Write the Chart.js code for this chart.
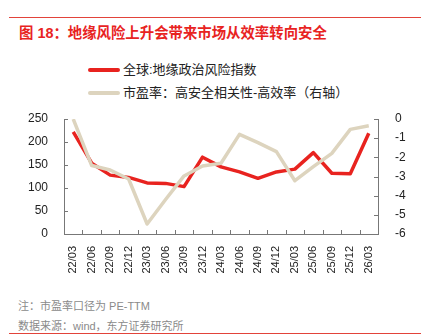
<!DOCTYPE html>
<html>
<head>
<meta charset="utf-8">
<script src="https://cdn.jsdelivr.net/npm/chart.js@4/dist/chart.umd.min.js"></script>
<style>
  body { margin: 0; background: #fff; font-family: "Liberation Sans", "Noto Sans CJK SC", sans-serif; }
  #wrap { position: relative; width: 422px; height: 334px; overflow: hidden; }
  .rule { position: absolute; left: 9px; width: 412px; height: 1px; background: #e2433a; }
  #title { position: absolute; left: 19px; top: 21px; font-size: 14.4px; font-weight: bold; color: #e8231f; white-space: nowrap; }
  .leg { position: absolute; left: 88px; font-size: 13px; color: #222; white-space: nowrap; }
  .leg i { display: inline-block; width: 32px; height: 4px; border-radius: 2px; vertical-align: middle; margin-right: 3px; position: relative; top: -1px; }
  .note { position: absolute; left: 18px; font-size: 11px; color: #8a8a8a; white-space: nowrap; }
  #box { position: absolute; left: 0; top: 100px; width: 422px; height: 185px; }
</style>
</head>
<body>
<div id="wrap">
  <div class="rule" style="top:17px"></div>
  <div id="title">图 18：地缘风险上升会带来市场从效率转向安全</div>
  <div class="leg" id="leg1" style="top:59px"></div>
  <div class="leg" id="leg2" style="top:82px"></div>
  <div id="box"><canvas id="c"></canvas></div>
  <div class="note" style="top:297px">注：市盈率口径为 PE-TTM</div>
  <div class="note" style="top:317px">数据来源：wind，东方证券研究所</div>
  <div class="rule" style="top:333px"></div>
</div>
<script>
const quarters = ['22/03','22/06','22/09','22/12','23/03','23/06','23/09','23/12','24/03','24/06','24/09','24/12','25/03','25/06','25/09','25/12','26/03'];
const riskIndex = [222, 154, 128, 123, 111, 110, 103, 167, 146, 135, 121, 135, 141, 177, 132, 131, 219];
const peSpread = [0.0, -2.43, -2.66, -3.13, -5.48, -4.2, -2.97, -2.45, -2.31, -0.8, -1.23, -1.7, -3.22, -2.49, -1.79, -0.54, -0.35];
const leftTicks = [0, 50, 100, 150, 200, 250];
const rightTicks = [-6, -5, -4, -3, -2, -1, 0];

const riskName = '全球:地缘政治风险指数';
const peName = '市盈率：高安全相关性-高效率（右轴）';
const red = '#e8231f';
const beige = '#ddd4be';

document.getElementById('leg1').innerHTML = '<i style="background:' + red + '"></i>' + riskName;
document.getElementById('leg2').innerHTML = '<i style="background:' + beige + '"></i>' + peName;

const axisColor = '#777';
const font = { family: '"Liberation Sans", Arial, sans-serif', size: 12 };

// short tick marks drawn on the inside of each axis
const innerTicks = {
  id: 'innerTicks',
  afterDraw(chart) {
    const ctx = chart.ctx;
    const a = chart.chartArea;
    const len = 4;
    ctx.save();
    ctx.strokeStyle = axisColor;
    ctx.lineWidth = 1;
    ctx.beginPath();
    chart.scales.y.ticks.forEach((t, i) => {
      const y = Math.round(chart.scales.y.getPixelForTick(i)) + 0.5;
      ctx.moveTo(a.left, y); ctx.lineTo(a.left + len, y);
    });
    chart.scales.y1.ticks.forEach((t, i) => {
      const y = Math.round(chart.scales.y1.getPixelForTick(i)) + 0.5;
      ctx.moveTo(a.right, y); ctx.lineTo(a.right - len, y);
    });
    const xs = chart.scales.x;
    for (let i = 0; i < quarters.length - 1; i++) {
      const x = Math.round((xs.getPixelForTick(i) + xs.getPixelForTick(i + 1)) / 2) + 0.5;
      ctx.moveTo(x, a.bottom); ctx.lineTo(x, a.bottom - len);
    }
    ctx.stroke();
    ctx.restore();
  }
};

new Chart(document.getElementById('c'), {
  type: 'line',
  data: {
    labels: quarters,
    datasets: [
      { label: riskName, data: riskIndex, yAxisID: 'y', borderColor: red, borderWidth: 3.5, borderJoinStyle: 'round', pointRadius: 0, tension: 0, order: 2 },
      { label: peName, data: peSpread, yAxisID: 'y1', borderColor: beige, borderWidth: 3.5, borderJoinStyle: 'round', pointRadius: 0, tension: 0, order: 1 }
    ]
  },
  options: {
    responsive: true,
    maintainAspectRatio: false,
    animation: false,
    layout: { padding: { top: 19, left: 0, right: 0, bottom: 0 } },
    plugins: { legend: { display: false }, tooltip: { enabled: false } },
    scales: {
      x: {
        offset: true,
        grid: { display: false, offset: true },
        border: { color: axisColor },
        ticks: { color: '#222', font: { family: font.family, size: 11 }, minRotation: 90, maxRotation: 90, autoSkip: false, padding: 4 },
        afterFit(s) { s.height = 51; }
      },
      y: {
        position: 'left',
        min: 0, max: 250,
        afterBuildTicks(s) { s.ticks = leftTicks.map(v => ({ value: v })); },
        grid: { display: false },
        border: { color: axisColor },
        ticks: { color: '#222', font: font, padding: 8 },
        afterFit(s) { s.width = 64; }
      },
      y1: {
        position: 'right',
        min: -6, max: 0,
        afterBuildTicks(s) { s.ticks = rightTicks.map(v => ({ value: v })); },
        grid: { display: false },
        border: { color: axisColor },
        ticks: { color: '#222', font: font, padding: 9 },
        afterFit(s) { s.width = 44; }
      }
    }
  },
  plugins: [innerTicks]
});
</script>
</body>
</html>
